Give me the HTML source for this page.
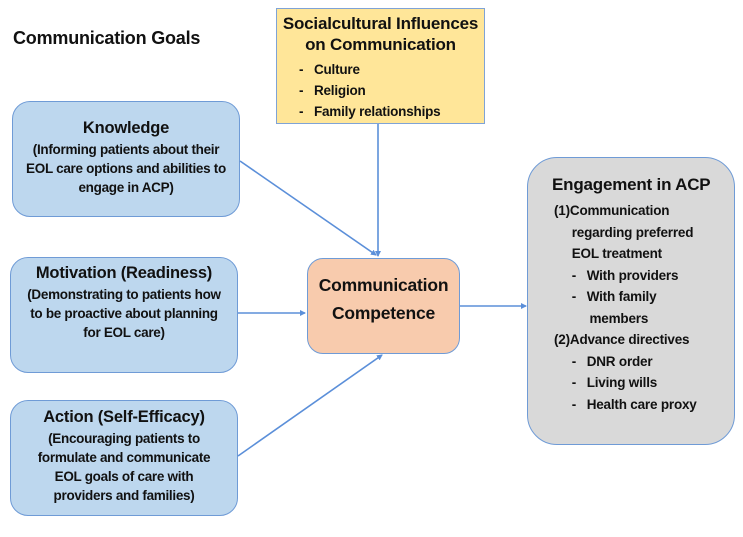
<!DOCTYPE html>
<html><head><style>
body{margin:0;width:743px;height:537px;background:#fff;position:relative;font-family:"Liberation Sans",sans-serif;font-weight:bold;color:#111;overflow:hidden}
.b{position:absolute;box-sizing:border-box;border:1.5px solid #6f9bd6;text-align:center}
.blue{background:#bdd7ee;border-radius:18px}
.t{position:absolute;white-space:nowrap;font-size:13.5px;letter-spacing:-0.2px}
.h{font-size:16.5px;letter-spacing:-0.2px}
.p{font-size:13.5px;letter-spacing:-0.3px;line-height:19px;margin-top:2px;white-space:nowrap}
</style></head><body>
<div class="t h" style="left:13px;top:28px;font-size:18px">Communication Goals</div>

<div class="b" style="left:276px;top:8px;width:209px;height:116px;background:#ffe699;border-color:#7fa3d6">
<div class="h" style="margin-top:4px;line-height:21px;font-size:17px;white-space:nowrap">Socialcultural Influences<br>on Communication</div>
<div class="t" style="left:22px;top:50px;line-height:21px;text-align:left">-&nbsp;&nbsp;&nbsp;Culture<br>-&nbsp;&nbsp;&nbsp;Religion<br>-&nbsp;&nbsp;&nbsp;Family relationships</div>
</div>

<div class="b blue" style="left:12px;top:101px;width:228px;height:116px">
<div class="h" style="margin-top:17px">Knowledge</div>
<div class="p">(Informing patients about their<br>EOL care options and abilities to<br>engage in ACP)</div>
</div>

<div class="b blue" style="left:10px;top:257px;width:228px;height:116px">
<div class="h" style="margin-top:6px">Motivation (Readiness)</div>
<div class="p">(Demonstrating to patients how<br>to be proactive about planning<br>for EOL care)</div>
</div>

<div class="b blue" style="left:10px;top:400px;width:228px;height:116px">
<div class="h" style="margin-top:7px">Action (Self-Efficacy)</div>
<div class="p">(Encouraging patients to<br>formulate and communicate<br>EOL goals of care with<br>providers and families)</div>
</div>

<div class="b" style="left:307px;top:258px;width:153px;height:96px;background:#f8cbad;border-radius:16px">
<div class="h" style="margin-top:12px;line-height:28px;font-size:17.5px">Communication<br>Competence</div>
</div>

<div class="b" style="left:527px;top:157px;width:208px;height:288px;background:#d9d9d9;border-radius:30px;text-align:left">
<div class="t h" style="left:24px;top:17px;font-size:17px">Engagement in ACP</div>
<div class="t" style="left:26px;top:42px;line-height:21.5px;font-size:13.5px">(1)Communication<br>&nbsp;&nbsp;&nbsp;&nbsp;&nbsp;regarding preferred<br>&nbsp;&nbsp;&nbsp;&nbsp;&nbsp;EOL treatment<br>&nbsp;&nbsp;&nbsp;&nbsp;&nbsp;-&nbsp;&nbsp;&nbsp;With providers<br>&nbsp;&nbsp;&nbsp;&nbsp;&nbsp;-&nbsp;&nbsp;&nbsp;With family<br>&nbsp;&nbsp;&nbsp;&nbsp;&nbsp;&nbsp;&nbsp;&nbsp;&nbsp;&nbsp;members<br>(2)Advance directives<br>&nbsp;&nbsp;&nbsp;&nbsp;&nbsp;-&nbsp;&nbsp;&nbsp;DNR order<br>&nbsp;&nbsp;&nbsp;&nbsp;&nbsp;-&nbsp;&nbsp;&nbsp;Living wills<br>&nbsp;&nbsp;&nbsp;&nbsp;&nbsp;-&nbsp;&nbsp;&nbsp;Health care proxy</div>
</div>

<svg width="743" height="537" style="position:absolute;left:0;top:0" stroke="#5b8fd9" stroke-width="1.6" fill="#5b8fd9">
<defs><marker id="a" markerWidth="6" markerHeight="6" refX="5" refY="3" orient="auto" markerUnits="userSpaceOnUse"><path d="M0,0L6,3L0,6z" stroke="none"/></marker></defs>
<line x1="378" y1="124" x2="378" y2="256" marker-end="url(#a)"/>
<line x1="240" y1="161" x2="376" y2="255" marker-end="url(#a)"/>
<line x1="238" y1="313" x2="305" y2="313" marker-end="url(#a)"/>
<line x1="238" y1="456" x2="382" y2="355" marker-end="url(#a)"/>
<line x1="460" y1="306" x2="526" y2="306" marker-end="url(#a)"/>
</svg>
</body></html>
